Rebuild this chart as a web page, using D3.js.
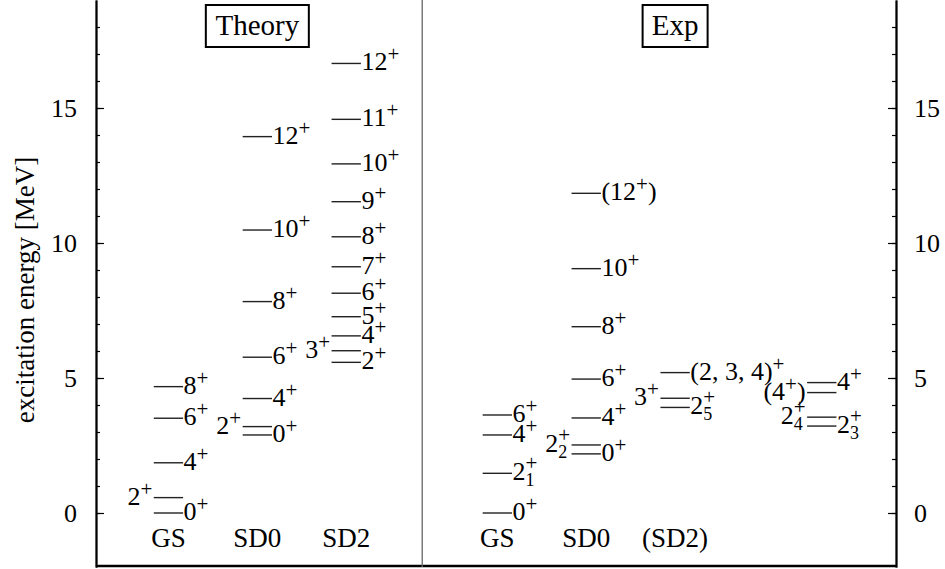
<html>
<head>
<script src="https://d3js.org/d3.v7.min.js"></script>
</head>
<body style="margin:0">
<svg id="chart" width="945" height="569"></svg>
<script>
// columns of the level scheme
const colKeys = ["thGS", "thSD0", "thSD2", "exGS", "exSD0", "exSD2", "exSD2b"];
const colNames = ["GS", "SD0", "SD2", "GS", "SD0", "(SD2)", ""];
const panelNames = ["Theory", "Exp"];
const panelCols = ["thSD0", "exSD2"];
const yTicks = [0, 5, 10, 15];

// levels: [energy MeV, label, label side]
const thGS = [[0, "0^+", "r"], [0.57, "2^+", "l"], [1.86, "4^+", "r"], [3.51, "6^+", "r"], [4.68, "8^+", "r"]];
const thSD0 = [[2.89, "0^+", "r"], [3.20, "2^+", "l"], [4.24, "4^+", "r"], [5.77, "6^+", "r"],
               [7.83, "8^+", "r"], [10.48, "10^+", "r"], [13.94, "12^+", "r"]];
const thSD2 = [[5.58, "2^+", "r"], [6.01, "3^+", "l"], [6.56, "4^+", "r"], [7.27, "5^+", "r"],
               [8.14, "6^+", "r"], [9.12, "7^+", "r"], [10.23, "8^+", "r"], [11.53, "9^+", "r"],
               [12.93, "10^+", "r"], [14.58, "11^+", "r"], [16.65, "12^+", "r"]];
const exGS = [[0, "0^+", "r"], [1.47, "2_1^+", "r"], [2.89, "4^+", "r"], [3.63, "6^+", "r"]];
const exSD0 = [[2.19, "0^+", "r"], [2.52, "2_2^+", "l"], [3.52, "4^+", "r"], [4.96, "6^+", "r"],
               [6.90, "8^+", "r"], [9.05, "10^+", "r"], [11.84, "(12^+)", "r"]];
const exSD2 = [[3.91, "2_5^+", "r"], [4.25, "3^+", "l"], [5.20, "(2, 3, 4)^+", "r"]];
const exSD2b = [[3.22, "2_3^+", "r"], [3.55, "2_4^+", "l"], [4.46, "(4^+)", "l"], [4.83, "4^+", "r"]];

const levelSets = { thGS, thSD0, thSD2, exGS, exSD0, exSD2, exSD2b };

const FONT = "'Liberation Serif'";
const svg = d3.select("#chart").style("font-family", FONT);
const x = d3.scaleLinear().domain([0, 9]).range([96, 896]);
const y = d3.scaleLinear().domain([-2, 19]).range([567, 0]);
const slot = d3.scaleOrdinal().domain(colKeys).range([0.65, 1.65, 2.65, 4.35, 5.35, 6.35, 8.0]);
const lw = 0.33;

// new text element with the serif face
function txt(parent, size) {
  return parent.append("text").style("font-family", FONT).style("font-size", size + "px");
}

// text with sub/superscripts: "2_1^+"
function richText(t, s) {
  let cur = 0, buf = "", lastSub = false;
  const SUP = -9, SUB = 6, SUPS = -10;
  const flush = () => {
    if (!buf) return;
    t.append("tspan").attr("dy", -cur).text(buf);
    cur = 0; buf = ""; lastSub = false;
  };
  for (let i = 0; i < s.length; i++) {
    const c = s[i];
    if (c === "_" || c === "^") {
      flush();
      const ch = s[++i];
      const ts = t.append("tspan").style("font-size", ch === "+" ? "21px" : "18px");
      if (c === "_") {
        ts.attr("dy", SUB - cur).text(ch);
        cur = SUB; lastSub = true;
      } else if (lastSub) {
        ts.attr("dx", -9).attr("dy", SUPS - cur).text(ch);
        cur = SUPS; lastSub = false;
      } else {
        ts.attr("dy", SUP - cur).text(ch);
        cur = SUP;
      }
    } else buf += c;
  }
  flush();
}

// axes: minor ticks, then labelled major ticks
const minor = y.ticks(21).filter(d => d >= 0 && d <= 18);
svg.append("g").attr("transform", "translate(96,0)")
  .call(d3.axisLeft(y).tickValues(minor).tickSizeInner(-4).tickSizeOuter(0).tickFormat(""));
svg.append("g").attr("transform", "translate(896,0)")
  .call(d3.axisRight(y).tickValues(minor).tickSizeInner(-4).tickSizeOuter(0).tickFormat(""));
svg.append("g").attr("transform", "translate(96,0)")
  .call(d3.axisLeft(y).tickValues(yTicks).tickSizeInner(-8).tickSizeOuter(0).tickFormat(""));
svg.append("g").attr("transform", "translate(896,0)")
  .call(d3.axisRight(y).tickValues(yTicks).tickSizeInner(-8).tickSizeOuter(0).tickFormat(""));
svg.selectAll(".domain").attr("stroke", "#000").attr("stroke-width", 1.8);
svg.selectAll(".tick line").attr("stroke", "#000").attr("stroke-width", 1.2);

yTicks.forEach(v => {
  txt(svg, 26).attr("x", 77).attr("y", y(v) + 9).attr("text-anchor", "end").text(v);
  txt(svg, 26).attr("x", 914).attr("y", y(v) + 9).attr("text-anchor", "start").text(v);
});

// frame bottom and divider
svg.append("line").attr("x1", x(0)).attr("x2", x(9)).attr("y1", y(-2) - 1).attr("y2", y(-2) - 1)
  .attr("stroke", "#000").attr("stroke-width", 2.4);
svg.append("line").attr("x1", x(3.67)).attr("x2", x(3.67)).attr("y1", y(19)).attr("y2", y(-2))
  .attr("stroke", "#666").attr("stroke-width", 1.3);

// y label
txt(svg, 27).attr("transform", "rotate(-90)")
  .attr("x", -290).attr("y", 34).attr("text-anchor", "middle")
  .text("excitation energy [MeV]");

// column names
colKeys.forEach((k, i) => {
  txt(svg, 27).attr("x", x(slot(k) + lw / 2)).attr("y", y(-1.25))
    .attr("text-anchor", "middle").text(colNames[i]);
});

// panel title boxes (box widths from reference)
const boxW = [103, 65];
panelNames.forEach((name, i) => {
  const cx = x(slot(panelCols[i]) + lw / 2);
  txt(svg, 29).attr("x", cx).attr("y", 35).attr("text-anchor", "middle").text(name);
  svg.append("rect").attr("x", cx - boxW[i] / 2).attr("y", 5).attr("width", boxW[i]).attr("height", 42)
    .attr("fill", "none").attr("stroke", "#000").attr("stroke-width", 2);
});

// levels
colKeys.forEach(key => {
  const x0 = slot(key);
  const g = svg.append("g");
  g.selectAll("line").data(levelSets[key]).enter().append("line")
    .attr("x1", x(x0)).attr("x2", x(x0 + lw))
    .attr("y1", d => y(d[0])).attr("y2", d => y(d[0]))
    .attr("stroke", "#222").attr("stroke-width", 1.4);
  levelSets[key].forEach(d => {
    const right = d[2] === "r";
    const t = txt(g, 26)
      .attr("x", right ? x(x0 + lw) + 0.5 : x(x0) - 1.5)
      .attr("y", y(d[0]) + 7)
      .attr("text-anchor", right ? "start" : "end");
    richText(t, d[1]);
  });
});
</script>
</body>
</html>
